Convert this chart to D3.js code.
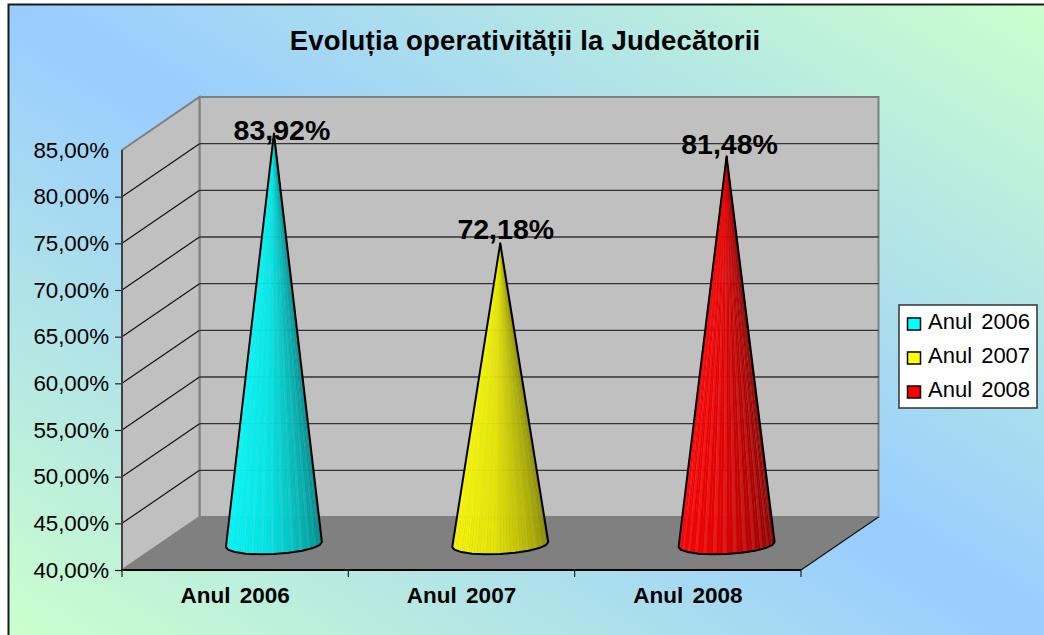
<!DOCTYPE html>
<html>
<head>
<meta charset="utf-8">
<script src="https://cdn.jsdelivr.net/npm/d3@7"></script>
<style>
body { margin: 0; background: #fff; }
svg { display: block; }
text { font-family: "Liberation Sans", Arial, sans-serif; fill: #000; }
</style>
</head>
<body>
<div id="chart"></div>
<script>
// chart data
var categories = ["Anul 2006", "Anul 2007", "Anul 2008"];
var values = [83.92, 72.18, 81.48];
var valueLabels = ["83,92%", "72,18%", "81,48%"];
var coneColors = ["#00ffff", "#ffff00", "#ff0000"];
var tickValues = [40, 45, 50, 55, 60, 65, 70, 75, 80, 85];
var chartTitle = "Evoluția operativității la Judecătorii";

var svgWidth = 1044, svgHeight = 635;

var svg = d3.select("#chart").append("svg")
    .attr("width", svgWidth)
    .attr("height", svgHeight);

// background: green corners, blue across the middle diagonal
var grad = svg.append("defs").append("linearGradient")
    .attr("id", "bg")
    .attr("x1", 0).attr("y1", 1).attr("x2", 1).attr("y2", 0);
grad.append("stop").attr("offset", "0%").attr("stop-color", "#ccffcc");
grad.append("stop").attr("offset", "50%").attr("stop-color", "#99ccff");
grad.append("stop").attr("offset", "100%").attr("stop-color", "#ccffcc");

svg.append("rect")
    .attr("x", 8).attr("y", 4)
    .attr("width", svgWidth - 8).attr("height", svgHeight - 4)
    .attr("fill", "url(#bg)");
svg.append("path")
    .attr("d", "M8.5," + svgHeight + "V4.5H" + svgWidth)
    .attr("fill", "none")
    .attr("stroke", "#1a1a1a")
    .attr("stroke-width", 2);

svg.append("text")
    .attr("x", 525).attr("y", 50)
    .attr("text-anchor", "middle")
    .style("font-size", "27.5px")
    .style("letter-spacing", "0.2px")
    .style("font-weight", "bold")
    .text(chartTitle);

// scales for the front plane, the 3d box is just an offset of it
var xScale = d3.scaleBand().domain(categories).range([122, 801]);
var yScale = d3.scaleLinear().domain([40, 85]).range([570, 150]);
var depthX = 77.5, depthY = -53;

var x0 = xScale.range()[0], x1 = xScale.range()[1];
var yBottom = yScale(40), yTop = yScale(85);

var box = svg.append("g");

function poly(points, fill) {
    return box.append("polygon")
        .attr("points", points.map(function(p) { return p.join(","); }).join(" "))
        .attr("fill", fill)
        .attr("stroke", "#808080")
        .attr("stroke-width", 2);
}

// back wall, side wall, floor
poly([[x0 + depthX, yTop + depthY], [x1 + depthX, yTop + depthY], [x1 + depthX, yBottom + depthY], [x0 + depthX, yBottom + depthY]], "#c0c0c0");
poly([[x0, yTop], [x0 + depthX, yTop + depthY], [x0 + depthX, yBottom + depthY], [x0, yBottom]], "#c0c0c0");
box.append("polygon")
    .attr("points", [[x0, yBottom], [x0 + depthX, yBottom + depthY], [x1 + depthX, yBottom + depthY], [x1, yBottom]].join(" "))
    .attr("fill", "#808080");

// gridlines
var gridTicks = tickValues.filter(function(d) { return d > 40 && d < 85; });
box.selectAll(".grid-side")
    .data(gridTicks)
    .enter()
    .append("line")
    .attr("x1", x0).attr("x2", x0 + depthX)
    .attr("y1", d => yScale(d))
    .attr("y2", d => yScale(d) + depthY)
    .attr("stroke", "#111")
    .attr("stroke-width", 1.2);
box.selectAll(".grid-back")
    .data(gridTicks)
    .enter()
    .append("line")
    .attr("x1", x0 + depthX).attr("x2", x1 + depthX)
    .attr("y1", d => yScale(d) + depthY)
    .attr("y2", d => yScale(d) + depthY)
    .attr("stroke", "#333")
    .attr("stroke-width", 1.4);

// floor front-right edge
box.append("line")
    .attr("x1", x1).attr("y1", yBottom)
    .attr("x2", x1 + depthX).attr("y2", yBottom + depthY)
    .attr("stroke", "#111")
    .attr("stroke-width", 1.2);

// axes
var leftAxis = d3.axisLeft(yScale)
    .tickValues(tickValues)
    .tickSize(7)
    .tickPadding(6)
    .tickFormat(d => d3.format(".2f")(d).replace(".", ",") + "%");
var leftG = svg.append("g")
    .attr("transform", "translate(" + x0 + ",0)")
    .call(leftAxis);
leftG.select(".domain").remove();
leftG.selectAll("text").style("font-size", "22.3px");
leftG.selectAll("line").attr("stroke", "#222").attr("stroke-width", 1.2);
leftG.selectAll(".tick").filter(d => d === 85).select("line").remove();
svg.append("line")
    .attr("x1", x0).attr("x2", x0)
    .attr("y1", yTop).attr("y2", yBottom)
    .attr("stroke", "#404040")
    .attr("stroke-width", 2);

var bottomAxis = d3.axisBottom(xScale).tickSize(0).tickPadding(17);
var bottomG = svg.append("g")
    .attr("transform", "translate(0," + yBottom + ")")
    .call(bottomAxis);
bottomG.select(".domain").remove();
bottomG.selectAll("text")
    .style("font-size", "22.5px")
    .style("font-weight", "bold")
    .style("word-spacing", "3px");
svg.append("line")
    .attr("x1", x0 - 1).attr("x2", x1)
    .attr("y1", yBottom).attr("y2", yBottom)
    .attr("stroke", "#000")
    .attr("stroke-width", 2);
svg.selectAll(".edge-tick")
    .data(d3.range(categories.length + 1))
    .enter()
    .append("line")
    .attr("x1", d => x0 + d * xScale.step())
    .attr("x2", d => x0 + d * xScale.step())
    .attr("y1", yBottom)
    .attr("y2", yBottom + 7)
    .attr("stroke", "#222")
    .attr("stroke-width", 1.2);

// cones stand half way into the box
var midX = depthX / 2, midY = depthY / 2;
var coneRx = 48, coneRy = 9.5, coneTilt = 2.5, facets = 44;

function basePoint(cx, cy, t) {
    return [cx + coneRx * Math.cos(t), cy + coneRy * Math.sin(t) - coneTilt * Math.cos(t)];
}

categories.forEach(function(cat, i) {
    var cx = xScale(cat) + xScale.bandwidth() / 2 + midX;
    var cy = yBottom + midY + 1;
    var apex = [cx, yScale(values[i]) + midY];
    var g = svg.append("g");
    var base = d3.color(coneColors[i]);

    // shading goes from full colour on the left to dark on the right
    var shade = d3.scaleLinear().domain([0, 0.45, 1]).range([1, 0.9, 0.5]);

    d3.range(facets).forEach(function(k) {
        var a = Math.PI - Math.PI * k / facets;
        var b = Math.PI - Math.PI * (k + 1) / facets;
        var s = shade(k / (facets - 1));
        var col = d3.rgb(base.r * s, base.g * s, base.b * s);
        // every third facet a bit lighter, gives the thin streaks
        if (k % 3 === 0) col = d3.interpolateRgb(col, "#c0c0c0")(0.14);
        g.append("polygon")
            .attr("points", [apex, basePoint(cx, cy, a), basePoint(cx, cy, b)].join(" "))
            .attr("fill", col)
            .attr("stroke", col)
            .attr("stroke-width", 0.4);
    });

    // outline, base is a little rough like in the original
    var outline = [apex];
    d3.range(11).forEach(function(k) {
        outline.push(basePoint(cx, cy, Math.PI - Math.PI * k / 10));
    });
    g.append("path")
        .attr("d", "M" + outline.join("L") + "Z")
        .attr("fill", "none")
        .attr("stroke", "#000")
        .attr("stroke-width", 2)
        .attr("stroke-linejoin", "round");
});

// data labels, hand placed relative to the tips
var labelNudge = [[8, 6], [5.5, -4], [3, -2]];
categories.forEach(function(cat, i) {
    svg.append("text")
        .attr("x", xScale(cat) + xScale.bandwidth() / 2 + midX + labelNudge[i][0])
        .attr("y", yScale(values[i]) + midY + labelNudge[i][1])
        .attr("text-anchor", "middle")
        .style("font-size", "28.5px")
        .style("font-weight", "bold")
        .text(valueLabels[i]);
});

// legend
var legend = svg.append("g");
legend.append("rect")
    .attr("x", 899).attr("y", 305)
    .attr("width", 138).attr("height", 103)
    .attr("fill", "#fff")
    .attr("stroke", "#333")
    .attr("stroke-width", 1.5);
var legendRow = d3.scalePoint().domain(categories).range([324, 392]);
categories.forEach(function(cat, i) {
    legend.append("rect")
        .attr("x", 907.5)
        .attr("y", legendRow(cat) - 6)
        .attr("width", 13).attr("height", 12)
        .attr("fill", coneColors[i])
        .attr("stroke", "#000")
        .attr("stroke-width", 1.5);
    legend.append("text")
        .attr("x", 928)
        .attr("y", legendRow(cat) + 5)
        .style("font-size", "22px")
        .style("word-spacing", "3px")
        .text(cat);
});
</script>
</body>
</html>
